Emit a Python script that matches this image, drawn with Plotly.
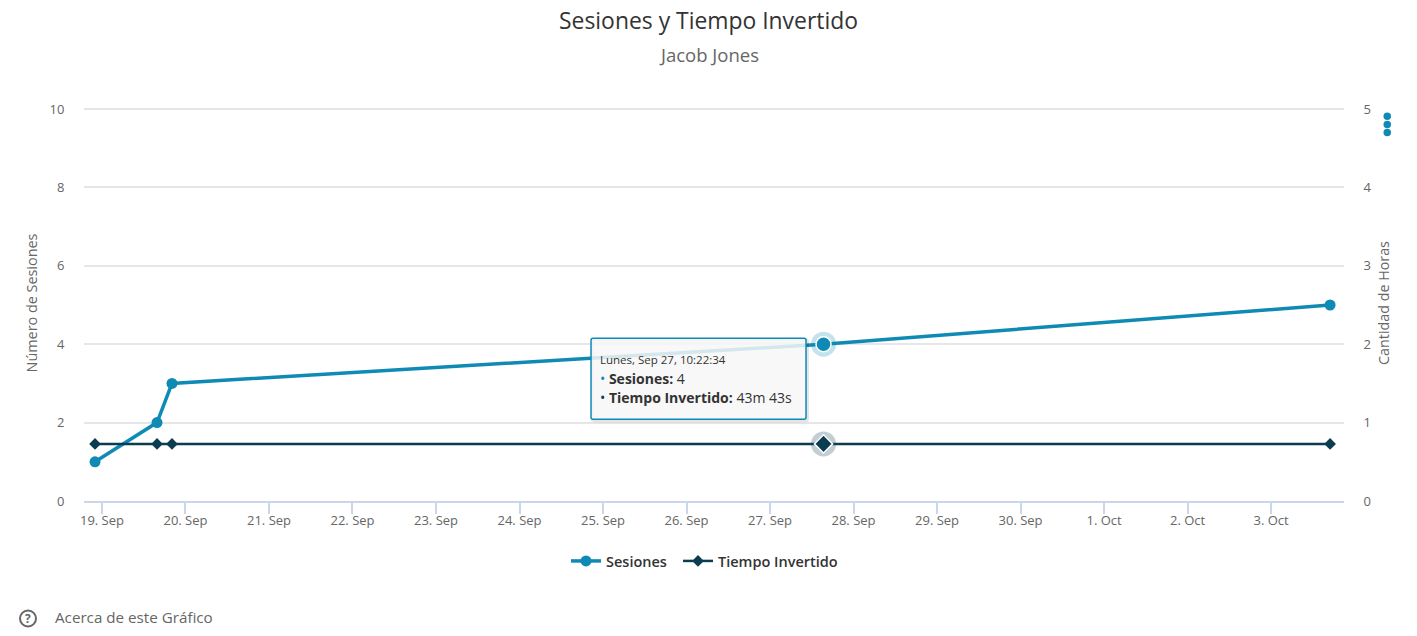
import plotly.graph_objects as go

W, H = 1417, 636
L, R, T, B = 84, 73, 105, 135
FONT = "Open Sans, Noto Sans, sans-serif"

dates = ["2021-09-18 22:00:00", "2021-09-19 15:49:00", "2021-09-19 20:07:00",
         "2021-09-27 15:22:34", "2021-10-03 16:58:00"]
sesiones = [1, 2, 3, 4, 5]
horas = [0.7286, 0.7286, 0.7286, 0.7286, 0.7286]
hover_index = 3
x_range = ["2021-09-18 18:50:00", "2021-10-03 20:58:00"]
y_ticks = [0, 2, 4, 6, 8, 10]
y2_ticks = [0, 1, 2, 3, 4, 5]
BLUE = "#0f8ab4"
NAVY = "#0c3c50"


def px(x):
    return (x - L) / (W - L - R)


def py(y):
    return 1 - (y - T) / (H - T - B)


def tip_path(dx=0.0, dy=0.0):
    x0, x1 = -232.5 + dx, -17.5 + dx
    y0, y1 = 6.0 - dy, -75.0 - dy
    r = 2
    return (f"M {x0 + r} {y0} L {x1 - r} {y0} Q {x1} {y0} {x1} {y0 - r} L {x1} {y1 + r} "
            f"Q {x1} {y1} {x1 - r} {y1} L {x0 + r} {y1} Q {x0} {y1} {x0} {y1 + r} "
            f"L {x0} {y0 - r} Q {x0} {y0} {x0 + r} {y0} Z")


fig = go.Figure()
fig.add_trace(go.Scatter(x=[dates[hover_index]], y=[sesiones[hover_index]], mode="markers",
                         marker=dict(size=25, color="rgba(15,138,180,0.25)"), showlegend=False, hoverinfo="skip"))
fig.add_trace(go.Scatter(x=[dates[hover_index]], y=[horas[hover_index]], yaxis="y2", mode="markers",
                         marker=dict(size=25, color="rgba(12,60,80,0.25)"), showlegend=False, hoverinfo="skip"))
fig.add_trace(go.Scatter(x=dates, y=sesiones, name="Sesiones", mode="lines+markers",
                         line=dict(color=BLUE, width=3.5),
                         marker=dict(color=BLUE, size=11, symbol="circle", opacity=1)))
fig.add_trace(go.Scatter(x=dates, y=horas, name="Tiempo Invertido", yaxis="y2", mode="lines+markers",
                         legend="legend2", line=dict(color=NAVY, width=2.5),
                         marker=dict(color=NAVY, size=9, symbol="diamond", opacity=1)))
fig.add_trace(go.Scatter(x=[dates[hover_index]], y=[sesiones[hover_index]], mode="markers", showlegend=False,
                         hoverinfo="skip", marker=dict(size=15, color=BLUE, line=dict(color="white", width=1.5))))
fig.add_trace(go.Scatter(x=[dates[hover_index]], y=[horas[hover_index]], yaxis="y2", mode="markers",
                         showlegend=False, hoverinfo="skip",
                         marker=dict(size=14, symbol="diamond", color=NAVY, line=dict(color="white", width=1.5))))

tip = ('<span style="font-size:11.5px">Lunes, Sep 27, 10:22:34</span><br>'
       f'<span style="color:{BLUE};font-size:14px">•</span><span style="font-size:14px"> <b>Sesiones:</b> 4</span><br>'
       f'<span style="color:{NAVY};font-size:14px">•</span><span style="font-size:14px"> <b>Tiempo Invertido:</b> 43m 43s</span>')

annotations = [
    dict(x=dates[hover_index], y=sesiones[hover_index], xref="x", yref="y", text=tip, showarrow=False,
         xanchor="left", yanchor="top", xshift=-226, yshift=-6, align="left",
         font=dict(family=FONT, size=15, color="#333333")),
    dict(x=px(709), y=py(54.5), xref="paper", yref="paper", yanchor="middle", text="Jacob Jones", showarrow=False,
         font=dict(family=FONT, size=18.5, color="#666666")),
    dict(x=px(53), y=py(617), xref="paper", yref="paper", xanchor="left", yanchor="middle",
         text="Acerca de este Gráfico", showarrow=False, font=dict(family=FONT, size=15.2, color="#666666")),
    dict(x=px(28), y=py(618.5), xref="paper", yref="paper", xanchor="center", yanchor="middle",
         text="<b>?</b>", showarrow=False, font=dict(family=FONT, size=12, color="#666666")),
]

shapes = [
    dict(type="circle", xref="paper", yref="paper", x0=px(20), x1=px(36), y0=py(610.5), y1=py(626.5),
         line=dict(color="#666666", width=2)),
]
for cy in (116.2, 124.4, 132.5):
    shapes.append(dict(type="circle", xref="paper", yref="paper", x0=px(1383.5), x1=px(1391),
                       y0=py(cy - 3.75), y1=py(cy + 3.75), fillcolor=BLUE, line=dict(width=0)))
anchor = dict(xref="x", yref="y", xsizemode="pixel", ysizemode="pixel",
              xanchor=dates[hover_index], yanchor=sesiones[hover_index], type="path", layer="above")
shapes.append(dict(anchor, path=tip_path(1.5, 1.5), line=dict(color="rgba(0,0,0,0.10)", width=3)))
shapes.append(dict(anchor, path=tip_path(), fillcolor="rgba(247,247,247,0.85)",
                   line=dict(color=BLUE, width=1.5)))

legend_style = dict(orientation="h", xanchor="left", y=py(561), yanchor="middle",
                    font=dict(family=FONT, size=14.5, color="#333333", weight=600), itemwidth=30,
                    bgcolor="rgba(0,0,0,0)")

fig.update_layout(
    width=W, height=H, autosize=False,
    margin=dict(l=L, r=R, t=T, b=B, autoexpand=False),
    paper_bgcolor="white", plot_bgcolor="white",
    font=dict(family=FONT, color="#666666", size=13),
    title=dict(text="Sesiones y Tiempo Invertido", x=0.5, xanchor="center", y=1 - 21 / H, yanchor="middle",
               xref="container", font=dict(family=FONT, size=22.9, color="#333333")),
    xaxis=dict(type="date", range=x_range, tick0="2021-09-19", dtick=86400000, tickformat="%-d. %b",
               ticks="outside", ticklen=11, tickcolor="#ccd6eb", tickwidth=1.5, showgrid=False,
               showline=True, linecolor="#ccd6eb", linewidth=1.5, zeroline=False, ticklabelstandoff=-4,
               tickfont=dict(size=13, color="#666666")),
    yaxis=dict(range=[0, 10.102], tickvals=y_ticks, showgrid=True, gridcolor="#e6e6e6", gridwidth=1.5,
               zeroline=False, ticks="outside", ticklen=16, tickcolor="rgba(0,0,0,0)",
               title=dict(text="Número de Sesiones", standoff=8, font=dict(size=14.4, color="#666666")),
               tickfont=dict(size=13, color="#666666")),
    yaxis2=dict(range=[0, 5.051], tickvals=y2_ticks, overlaying="y", side="right", showgrid=False,
                zeroline=False, ticks="outside", ticklen=16, tickcolor="rgba(0,0,0,0)",
                title=dict(text="Cantidad de Horas", standoff=8, font=dict(size=14.3, color="#666666")),
                tickfont=dict(size=13, color="#666666")),
    legend=dict(legend_style, x=px(566)),
    legend2=dict(legend_style, x=px(678)),
    annotations=annotations, shapes=shapes, showlegend=True,
)

fig.write_html("out.html", config={"displayModeBar": False},
               post_script="document.body.style.margin='0';")
